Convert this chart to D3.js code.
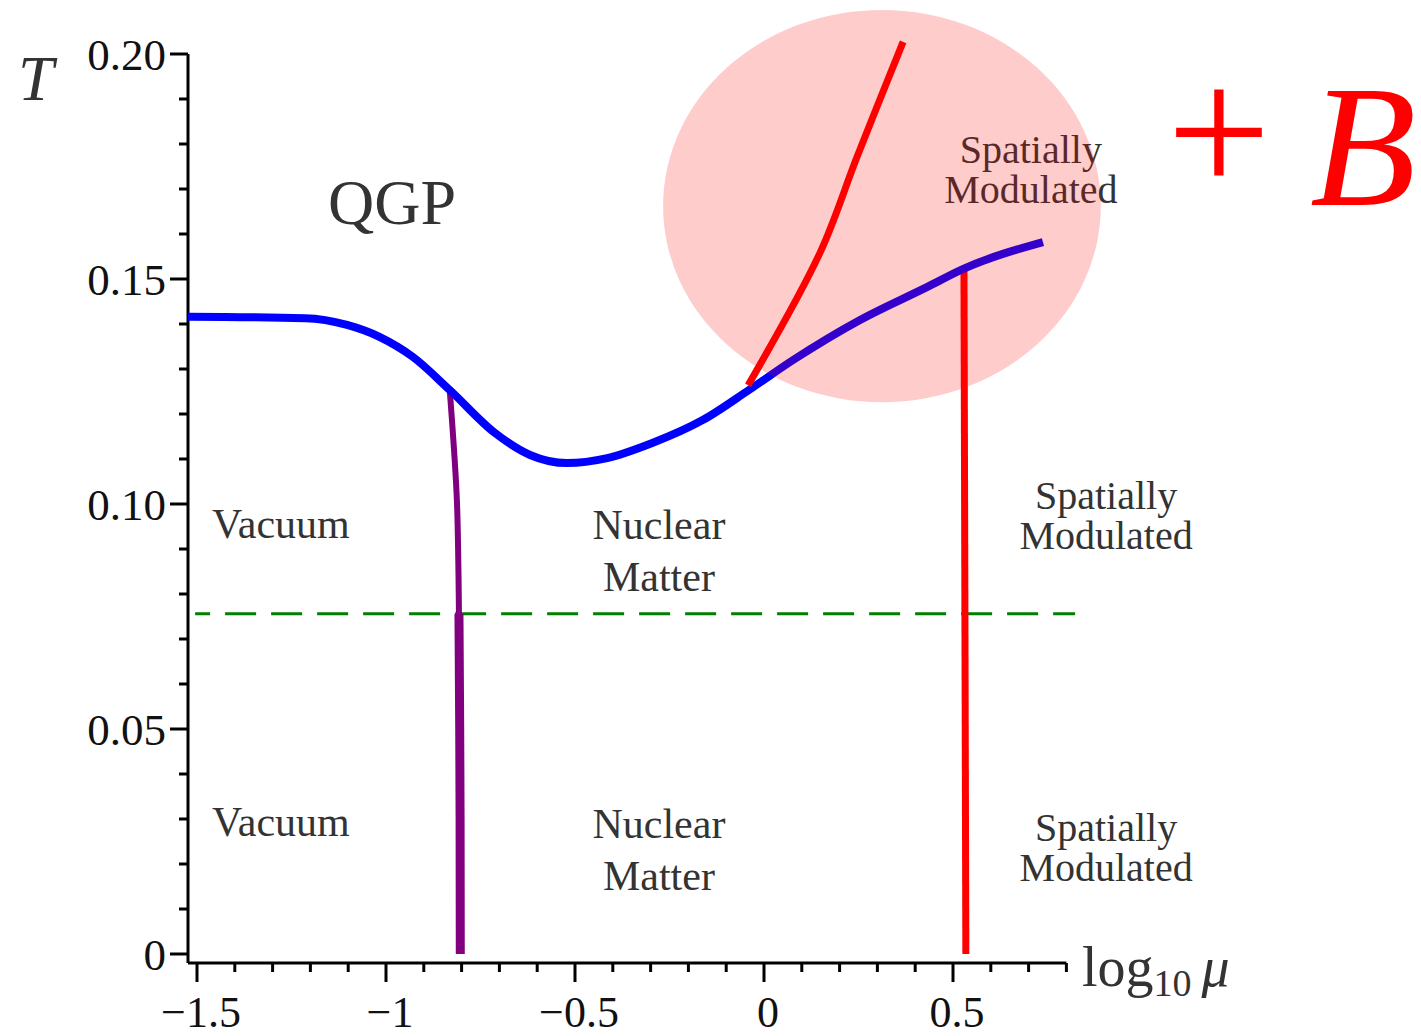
<!DOCTYPE html>
<html>
<head>
<meta charset="utf-8">
<script src="https://cdn.jsdelivr.net/npm/d3@7/dist/d3.min.js"></script>
<style>
  html, body { margin: 0; padding: 0; background: #fff; }
  svg { display: block; }
  text { font-family: "Liberation Serif", "Times New Roman", serif; }
</style>
</head>
<body>
<svg id="chart" width="1421" height="1036"></svg>
<script>
// Phase diagram: temperature T against log10(mu)

// Deconfinement boundary (blue)
const blueMu = [-1.524, -1.214, -1.103, -1.016, -0.929, -0.831, -0.712, -0.619, -0.521, -0.415, -0.294, -0.161, -0.037, 0.077, 0.254, 0.431, 0.526, 0.738];
const blueT  = [0.1416, 0.1413, 0.1398, 0.1371, 0.1327, 0.1253, 0.1158, 0.1109, 0.1091, 0.1102, 0.1136, 0.1187, 0.1255, 0.1320, 0.1409, 0.1482, 0.1522, 0.1582];

// Vacuum / nuclear matter boundary (purple)
const purpleMu = [-0.831, -0.820, -0.812, -0.807];
const purpleT  = [0.1249, 0.1120, 0.0998, 0.0756];
const purpleLowMu = [-0.807, -0.805, -0.804, -0.8035];
const purpleLowT  = [0.0756, 0.0500, 0.0300, 0.0];

// Nuclear matter / spatially modulated boundary (red, vertical)
const redVertMu = [0.529, 0.534];
const redVertT  = [0.1524, 0.0];

// Spatially modulated boundary in a magnetic field (red, diagonal)
const redDiagMu = [-0.042, 0.148, 0.246, 0.368];
const redDiagT  = [0.1264, 0.1558, 0.1771, 0.2027];

// Horizontal reference temperature (green dashed)
const greenMu = [-1.505, 0.823];
const greenT  = 0.0756;

// Highlighted region (centre and half-widths in data units)
const blobMu = 0.312, blobT = 0.1662, blobRMu = 0.579, blobRT = 0.0436;

// Axis ticks
const xMajor = [-1.5, -1, -0.5, 0, 0.5];
const xMajorLabels = ["\u22121.5", "\u22121", "\u22120.5", "0", "0.5"];
const xMinor = [-1.4, -1.3, -1.2, -1.1, -0.9, -0.8, -0.7, -0.6, -0.4, -0.3, -0.2, -0.1, 0.1, 0.2, 0.3, 0.4, 0.6, 0.7, 0.8];
const yMajor = [0, 0.05, 0.10, 0.15, 0.20];
const yMajorLabels = ["0", "0.05", "0.10", "0.15", "0.20"];
const yMinor = [0.01, 0.02, 0.03, 0.04, 0.06, 0.07, 0.08, 0.09, 0.11, 0.12, 0.13, 0.14, 0.16, 0.17, 0.18, 0.19];

// Region labels: lines of text, anchor mu, baseline T of first line
const labelLines = [["QGP"], ["Vacuum"], ["Nuclear", "Matter"], ["Spatially", "Modulated"],
                    ["Vacuum"], ["Nuclear", "Matter"], ["Spatially", "Modulated"], ["Spatially", "Modulated"]];
const labelMu    = [-0.984, -1.278, -0.278, 0.905, -1.278, -0.278, 0.905, 0.706];
const labelT     = [0.1622, 0.0924, 0.0922, 0.0988, 0.0262, 0.0258, 0.0251, 0.1758];

const svg = d3.select("#chart");

const x = d3.scaleLinear().domain([-1.5, 0.8]).range([197, 1066.4]);
const y = d3.scaleLinear().domain([0, 0.2]).range([954, 54]);

const axisY = 963;   // x-axis line position
const axisX = 188;   // y-axis line position

// ---- axes ----
const gx = svg.append("g").attr("transform", `translate(0,${axisY})`);
gx.append("line").attr("x1", axisX).attr("x2", x(0.8))
  .attr("stroke", "#000").attr("stroke-width", 3);
gx.selectAll("line.maj").data(xMajor).join("line").attr("class", "maj")
  .attr("x1", d => x(d)).attr("x2", d => x(d)).attr("y1", 0).attr("y2", 19)
  .attr("stroke", "#000").attr("stroke-width", 3);
gx.selectAll("line.min").data(xMinor).join("line").attr("class", "min")
  .attr("x1", d => x(d)).attr("x2", d => x(d)).attr("y1", 0).attr("y2", 9)
  .attr("stroke", "#000").attr("stroke-width", 3);
gx.selectAll("text").data(xMajor).join("text")
  .attr("x", d => x(d) + 4).attr("y", 64)
  .attr("text-anchor", "middle").attr("font-size", 44).attr("fill", "#111")
  .text((d, i) => xMajorLabels[i]);

const gy = svg.append("g").attr("transform", `translate(${axisX},0)`);
gy.append("line").attr("y1", y(0.2)).attr("y2", axisY)
  .attr("stroke", "#000").attr("stroke-width", 3);
gy.selectAll("line.maj").data(yMajor).join("line").attr("class", "maj")
  .attr("y1", d => y(d)).attr("y2", d => y(d)).attr("x1", 0).attr("x2", -18)
  .attr("stroke", "#000").attr("stroke-width", 3);
gy.selectAll("line.min").data(yMinor).join("line").attr("class", "min")
  .attr("y1", d => y(d)).attr("y2", d => y(d)).attr("x1", 0).attr("x2", -9)
  .attr("stroke", "#000").attr("stroke-width", 3);
gy.selectAll("text").data(yMajor).join("text")
  .attr("x", -22).attr("y", d => y(d)).attr("dy", "0.35em")
  .attr("text-anchor", "end").attr("font-size", 45).attr("fill", "#111")
  .text((d, i) => yMajorLabels[i]);

// axis titles
svg.append("text").attr("x", 18).attr("y", 100)
  .attr("font-size", 64).attr("font-style", "italic").attr("fill", "#333").text("T");
const xt = svg.append("text").attr("x", 1082).attr("y", 986).attr("font-size", 56).attr("fill", "#333");
xt.append("tspan").text("log");
xt.append("tspan").attr("font-size", 38).attr("dy", 10).text("10");
xt.append("tspan").attr("dy", -10).attr("dx", 10).attr("font-style", "italic").text("\u03bc");

// ---- curves ----
const line = d3.line().x(d => x(d[0])).y(d => y(d[1]));
const zip = (a, b) => a.map((v, i) => [v, b[i]]);

svg.append("path").datum([[greenMu[0], greenT], [greenMu[1], greenT]])
  .attr("d", line).attr("fill", "none").attr("stroke", "#008000")
  .attr("stroke-width", 3).attr("stroke-dasharray", "31,15").attr("stroke-dashoffset", 16);

svg.append("path").datum(zip(purpleMu, purpleT))
  .attr("d", line.curve(d3.curveCatmullRom)).attr("fill", "none")
  .attr("stroke", "#800080").attr("stroke-width", 6);
svg.append("path").datum(zip(purpleLowMu, purpleLowT))
  .attr("d", line.curve(d3.curveLinear)).attr("fill", "none")
  .attr("stroke", "#800080").attr("stroke-width", 9);

svg.append("path").datum(zip(redVertMu, redVertT))
  .attr("d", line.curve(d3.curveLinear)).attr("fill", "none")
  .attr("stroke", "#ff0000").attr("stroke-width", 7);

svg.append("path").datum(zip(blueMu, blueT))
  .attr("d", line.curve(d3.curveMonotoneX)).attr("fill", "none")
  .attr("stroke", "#0000ff").attr("stroke-width", 8).attr("stroke-linejoin", "round");

svg.append("path").datum(zip(redDiagMu, redDiagT))
  .attr("d", line.curve(d3.curveCatmullRom)).attr("fill", "none")
  .attr("stroke", "#ff0000").attr("stroke-width", 7);

// ---- region labels ----
const lab = svg.append("g").selectAll("text").data(labelLines).join("text")
  .attr("x", (d, i) => x(labelMu[i])).attr("y", (d, i) => y(labelT[i]))
  .attr("text-anchor", "middle")
  .attr("font-size", d => d[0] === "QGP" ? 64 : (d[0] === "Spatially" ? 40 : 42))
  .attr("fill", "#333");
lab.each(function (lines, i) {
  const t = d3.select(this);
  const gap = lines[0] === "Spatially" ? 40 : 52;
  lines.forEach((s, k) => {
    t.append("tspan").attr("x", x(labelMu[i])).attr("dy", k === 0 ? 0 : gap).text(s);
  });
});

// ---- highlighted region, translucent overlay ----
svg.append("ellipse")
  .attr("cx", x(blobMu)).attr("cy", y(blobT))
  .attr("rx", x(blobMu + blobRMu) - x(blobMu)).attr("ry", y(blobT) - y(blobT + blobRT))
  .attr("fill", "#ff0000").attr("fill-opacity", 0.2);

// "+B" annotation
svg.append("text").attr("x", 1219).attr("y", 194).attr("text-anchor", "middle")
  .attr("font-size", 184).attr("fill", "#ff0000").text("+");
svg.append("text").attr("x", 1310).attr("y", 205)
  .attr("font-size", 174).attr("font-style", "italic").attr("fill", "#ff0000").text("B");
</script>
</body>
</html>
